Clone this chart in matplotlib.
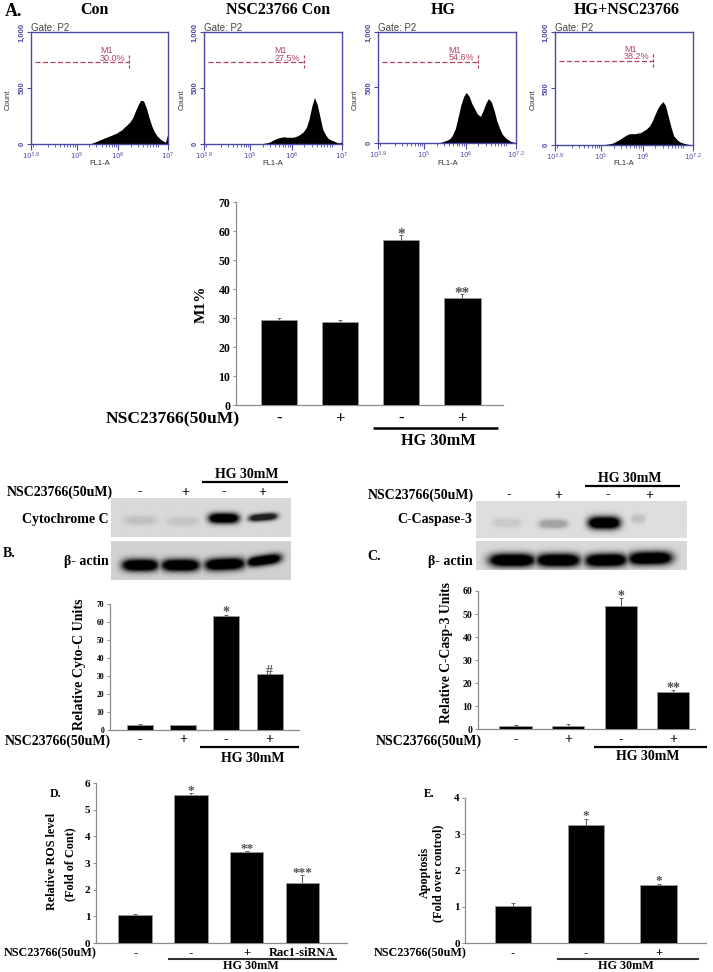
import numpy as np
import matplotlib
matplotlib.use("Agg")
import matplotlib.pyplot as plt

W, H = 713, 972
SERIF = "Liberation Serif"
SANS = "Liberation Sans"
BLUE = "#4a4aa6"
RED = "#b3405f"
plt.rcParams["font.family"] = [SERIF, "DejaVu Sans"]

# ---------- data ----------
fl1_log = [4.89,4.96,5.02,5.09,5.15,5.22,5.29,5.35,5.42,5.49,5.55,5.62,5.68,5.75,5.82,5.88,5.95,6.01,
           6.08,6.15,6.21,6.28,6.35,6.41,6.48,6.54,6.61,6.68,6.74,6.81,6.87,6.94,7.01,7.07,7.14,7.20]
count_con = [0,0,0,0,0,0,0,5,15,25,35,45,55,65,75,85,95,110,125,150,170,195,235,290,350,390,385,320,240,160,110,70,45,30,15,100]
count_nsc = [0,0,0,0,0,0,3,8,12,20,35,45,55,60,65,60,60,60,65,75,90,110,150,220,340,415,350,230,130,80,50,35,25,15,10,20]
count_hg = [0,0,0,0,0,0,0,3,8,18,25,40,70,130,240,340,420,455,420,350,310,260,240,290,360,400,370,290,200,130,80,50,30,15,8,3]
count_hgn = [0,0,3,5,8,12,18,30,45,60,75,90,100,100,100,105,110,125,140,165,200,260,320,355,385,350,250,150,80,50,30,20,12,8,4,2]
hist_titles = ["Con", "NSC23766 Con", "HG", "HG+NSC23766"]
m1_percent = ["30.0%", "27.5%", "54.6%", "38.2%"]
fl1_ticklabels = [
    ["$10^{3.9}$", "$10^{5}$", "$10^{6}$", "$10^{7}$"],
    ["$10^{3.9}$", "$10^{5}$", "$10^{6}$", "$10^{7}$"],
    ["$10^{3.9}$", "$10^{5}$", "$10^{6}$", "$10^{7.2}$"],
    ["$10^{3.9}$", "$10^{5}$", "$10^{6}$", "$10^{7.2}$"],
]

m1_vals, m1_err = [29.4, 28.5, 57.0, 37.0], [0.6, 0.8, 1.7, 1.4]
m1_marks = ["", "", "*", "**"]
cyto_vals, cyto_err = [3.0, 2.7, 63.5, 31.0], [0.5, 0.3, 0.7, 0.4]
cyto_marks = ["", "", "*", "#"]
casp_vals, casp_err = [1.5, 1.3, 53.3, 16.0], [0.3, 0.8, 3.5, 1.0]
casp_marks = ["", "", "*", "**"]
ros_vals, ros_err = [1.04, 5.56, 3.42, 2.24], [0.04, 0.07, 0.03, 0.32]
ros_marks = ["", "*", "**", "***"]
apo_vals, apo_err = [1.02, 3.26, 1.59], [0.09, 0.14, 0.03]
apo_marks = ["", "*", "*"]
signs4 = ["-", "+", "-", "+"]
ros_groups = ["-", "-", "+", "Rac1-siRNA"]
signs3 = ["-", "-", "+"]

cyto_blot = [0.11, 0.09, 1.0, 0.85]
b_actin_blot = [1.0, 1.0, 1.0, 1.0]
casp_blot = [0.09, 0.26, 1.0, 0.12]
c_actin_blot = [1.0, 1.0, 1.0, 1.0]

fig = plt.figure(figsize=(W / 100, H / 100), dpi=100, facecolor="white")


def ax_px(l, t, r, b):
    return fig.add_axes([l / W, 1 - b / H, (r - l) / W, (b - t) / H])


def txt(x, y, s, size, ha="center", rot=0, bold=True, family=SERIF, color="black"):
    fig.text(x / W, 1 - y / H, s, fontsize=size, ha=ha, va="center", rotation=rot,
             fontweight="bold" if bold else "normal", family=family, color=color)


def hline(x0, x1, y, lw=2.0, color="black"):
    fig.add_artist(plt.Line2D([x0 / W, x1 / W], [1 - y / H, 1 - y / H], color=color, lw=lw, solid_capstyle="butt"))


# ---------- flow-cytometry histograms ----------
hist_boxes = [(31, 32, 168, 144), (204, 32, 342, 144), (378, 32, 516, 143), (555, 32, 693, 145)]
hist_series = [count_con, count_nsc, count_hg, count_hgn]
title_x = [94, 278, 443, 627]
count_x = [8, 182, 355, 533]
fl1_x = [100, 273, 448, 624]
m1_y = [728, 728, 730, 741]
m1_end = [6.26, 6.29, 6.28, 6.25]
minor = [np.log10(m) + d for d in (3, 4, 5, 6) for m in range(2, 10)]
minor = [m for m in minor if 3.9 < m < 7.2]
for i, box in enumerate(hist_boxes):
    ax = ax_px(*box)
    ax.fill_between(fl1_log, hist_series[i], color="black", lw=0)
    ax.set_xlim(3.9, 7.2)
    ax.set_ylim(0, 1000)
    for s in ax.spines.values():
        s.set_color(BLUE)
        s.set_linewidth(1.0)
    ax.set_xticks([3.9, 5, 6, 7.2], fl1_ticklabels[i], fontsize=5, color=BLUE, fontweight="bold", family=SANS)
    ax.set_xticks(minor, minor=True)
    ax.set_yticks([0, 500, 1000], ["0", "500", "1,000"], fontsize=5.5, color=BLUE, rotation=90, va="center",
                  fontweight="bold", family=SANS)
    ax.tick_params(axis="x", which="major", length=4, width=0.8, color=BLUE, pad=1)
    ax.tick_params(axis="x", which="minor", length=2.2, width=0.6, color=BLUE)
    ax.tick_params(axis="y", length=3, width=0.8, color=BLUE, pad=1)
    ax.plot([4.0, m1_end[i]], [m1_y[i]] * 2, color=RED, lw=0.9, ls=(0, (4, 2)))
    ax.plot([m1_end[i]] * 2, [m1_y[i] - 50, m1_y[i] + 70], color=RED, lw=0.9, ls=(0, (2.5, 1.5)))
    ax.text(m1_end[i] - 0.70, m1_y[i] + 107, "M1", color=RED, fontsize=6.5, family=SANS, va="center")
    ax.text(m1_end[i] - 0.70, m1_y[i] + 39, m1_percent[i], color=RED, fontsize=6.5, family=SANS, va="center")
    ax.text(0, 0.995, "Gate: P2", transform=ax.transAxes, fontsize=7, family=SANS, color="#444444", va="bottom")
    txt(count_x[i], 100, "Count", 5.5, rot=90, bold=False, family=SANS, color="#333333")
    txt(fl1_x[i], 163, "FL1-A", 5.5, bold=False, family=SANS, color="#333333")
    txt(title_x[i], 10, hist_titles[i], 11.5)


# ---------- bar panels ----------
def bars(box, x0, step, width, vals, errs, marks, ymax, yticks, labels, tick_fs, sign_fs, pad, star_fs, star_off):
    l, t, r, b = box
    ax = ax_px(l, t, r, b)
    xs = list(range(len(vals)))
    ax.bar(xs, vals, width=width, color="black", edgecolor="#999999", linewidth=0.6, zorder=3)
    ax.errorbar(xs, vals, yerr=[[0] * len(errs), errs], fmt="none", ecolor="#555555", elinewidth=0.7,
                capsize=1.5, capthick=0.6, zorder=2)
    ax.set_xlim((l - x0) / step, (r - x0) / step)
    ax.set_ylim(0, ymax)
    for s in ("top", "right"):
        ax.spines[s].set_visible(False)
    for s in ("left", "bottom"):
        ax.spines[s].set_color("#8c8c8c")
        ax.spines[s].set_linewidth(0.9)
    ax.set_yticks(yticks)
    ax.tick_params(axis="y", length=2.5, width=0.7, color="#8c8c8c", pad=1.5, labelsize=tick_fs)
    ax.set_xticks(xs, labels, fontsize=sign_fs, fontweight="bold")
    ax.tick_params(axis="x", length=0, pad=pad)
    for lab in ax.get_yticklabels():
        lab.set_fontweight("bold")
    ax.patch.set_alpha(0)
    for x, v, e, m in zip(xs, vals, errs, marks):
        if m:
            ax.annotate(m, (x, v + e), xytext=(0, star_off), textcoords="offset points", ha="center", va="center",
                        fontsize=star_fs, color="#505050", fontweight="bold", annotation_clip=False)
    return ax


bars((236, 202.3, 503, 405), 279.2, 61, 0.6, m1_vals, m1_err, m1_marks, 70, range(0, 71, 10), signs4, 8.5, 12, 4, 11, 0.5)
bars((110, 604.3, 299, 730), 139.7, 43.3, 0.6, cyto_vals, cyto_err, cyto_marks, 70, range(0, 71, 10), signs4, 5.5, 10, 2.5, 10, 1.5)
bars((478, 591, 695, 729.3), 515.5, 52.6, 0.61, casp_vals, casp_err, casp_marks, 60, range(0, 61, 10), signs4, 7, 10, 2.5, 10, 1.5)
bars((95.7, 783, 346.7, 943), 135.2, 55.7, 0.6, ros_vals, ros_err, ros_marks, 6, range(0, 7), ros_groups, 8, 9, 3, 9.5, 1.5)
bars((465.3, 797.7, 705.7, 943), 513, 72.8, 0.5, apo_vals, apo_err, apo_marks, 4, range(0, 5), signs3, 8, 9, 3, 9.5, 2.5)


# ---------- western blots ----------
def blot(box, centers, half_w, half_h, y_c, slopes, strengths, bg):
    l, t, r, b = box
    xx, yy = np.meshgrid(np.arange(l, r, 0.5), np.arange(t, b, 0.5))
    dark = np.zeros_like(xx, dtype=float)
    for c, w, h, yc, sl, st in zip(centers, half_w, half_h, y_c, slopes, strengths):
        band = np.exp(-((xx - c) / w) ** 4 - ((yy - (yc + sl * (xx - c))) / h) ** 2)
        dark = np.maximum(dark, st * np.clip(band * 1.6, 0, 1))
    img = bg * (1 - dark)
    ax = ax_px(l, t, r, b)
    ax.imshow(img, cmap="gray", vmin=0, vmax=1, aspect="auto", interpolation="bilinear")
    ax.axis("off")


blot((111, 498, 290, 537), [140, 182, 223, 262], [15, 15, 15, 14], [4, 4, 5, 3.5], [520, 521, 518, 517],
     [0, 0, 0, -0.08], cyto_blot, 0.85)
blot((111, 541, 290, 580), [140, 180, 224, 263], [18, 19, 20, 17], [6, 6, 6, 5], [565, 565, 564, 560],
     [0, 0, -0.04, -0.14], b_actin_blot, 0.82)
blot((476, 501, 687, 538), [507, 553, 604, 638], [14, 14, 16, 7], [4, 4, 6, 4], [523, 524, 523, 519],
     [0, 0, 0, 0], casp_blot, 0.87)
blot((476, 541, 687, 570), [512, 558, 606, 650], [23, 22, 21, 22], [6.5, 6.5, 6.5, 6.5], [560, 560, 560, 558],
     [0, 0, -0.02, -0.02], c_actin_blot, 0.85)

# ---------- annotations ----------
txt(5, 11, "A.", 13, ha="left")
txt(3, 553, "B.", 10, ha="left")
txt(367, 556, "C.", 10, ha="left")
txt(50, 794, "D.", 8.5, ha="left")
txt(424, 794, "E.", 8.5, ha="left")

# panel A
txt(240, 419.5, "NSC23766(50uM)", 12.6, ha="right")
hline(373, 498, 428, lw=1.8)
txt(438, 441, "HG 30mM", 11.8)
txt(201, 304, "M1%", 11, rot=90)

# panel B
txt(247, 474, "HG 30mM", 10)
hline(202, 288, 482, lw=1.6)
txt(113, 492, "NSC23766(50uM)", 10, ha="right")
for x, s in zip([140, 185, 224, 262], signs4):
    txt(x, 492, s, 10)
txt(109, 520, "Cytochrome C", 10, ha="right")
txt(109, 562, "β- actin", 10, ha="right")
txt(111, 741, "NSC23766(50uM)", 10, ha="right")
hline(200, 299, 747, lw=1.6)
txt(253, 758, "HG 30mM", 10)
txt(80, 664, "Relative Cyto-C Units", 10.1, rot=90)

# panel C
txt(630, 478, "HG 30mM", 10)
hline(585, 680, 486, lw=1.6)
txt(474, 495, "NSC23766(50uM)", 10, ha="right")
for x, s in zip([509, 558, 608, 649], signs4):
    txt(x, 495, s, 10)
txt(472, 520, "C-Caspase-3", 10, ha="right")
txt(473, 562, "β- actin", 10, ha="right")
txt(482, 741, "NSC23766(50uM)", 10, ha="right")
hline(594, 707, 747, lw=1.6)
txt(648, 756, "HG 30mM", 10)
txt(447, 652, "Relative C-Casp-3 Units", 9.8, rot=90)

# panel D
txt(97, 953.5, "NSC23766(50uM)", 8.7, ha="right")
hline(168, 337, 959, lw=1.5, color="#333333")
txt(251, 966, "HG 30mM", 8.7)
txt(52, 861, "Relative ROS level", 8.7, rot=90)
txt(70, 864, "(Fold of Cont)", 8.7, rot=90)

# panel E
txt(467, 953.5, "NSC23766(50uM)", 8.7, ha="right")
hline(557, 699, 959, lw=1.5, color="#333333")
txt(626, 966, "HG 30mM", 8.7)
txt(425, 872, "Apoptosis", 8.7, rot=90)
txt(438, 873, "(Fold over control)", 8.7, rot=90)

fig.savefig("out.png", dpi=100, facecolor="white")
